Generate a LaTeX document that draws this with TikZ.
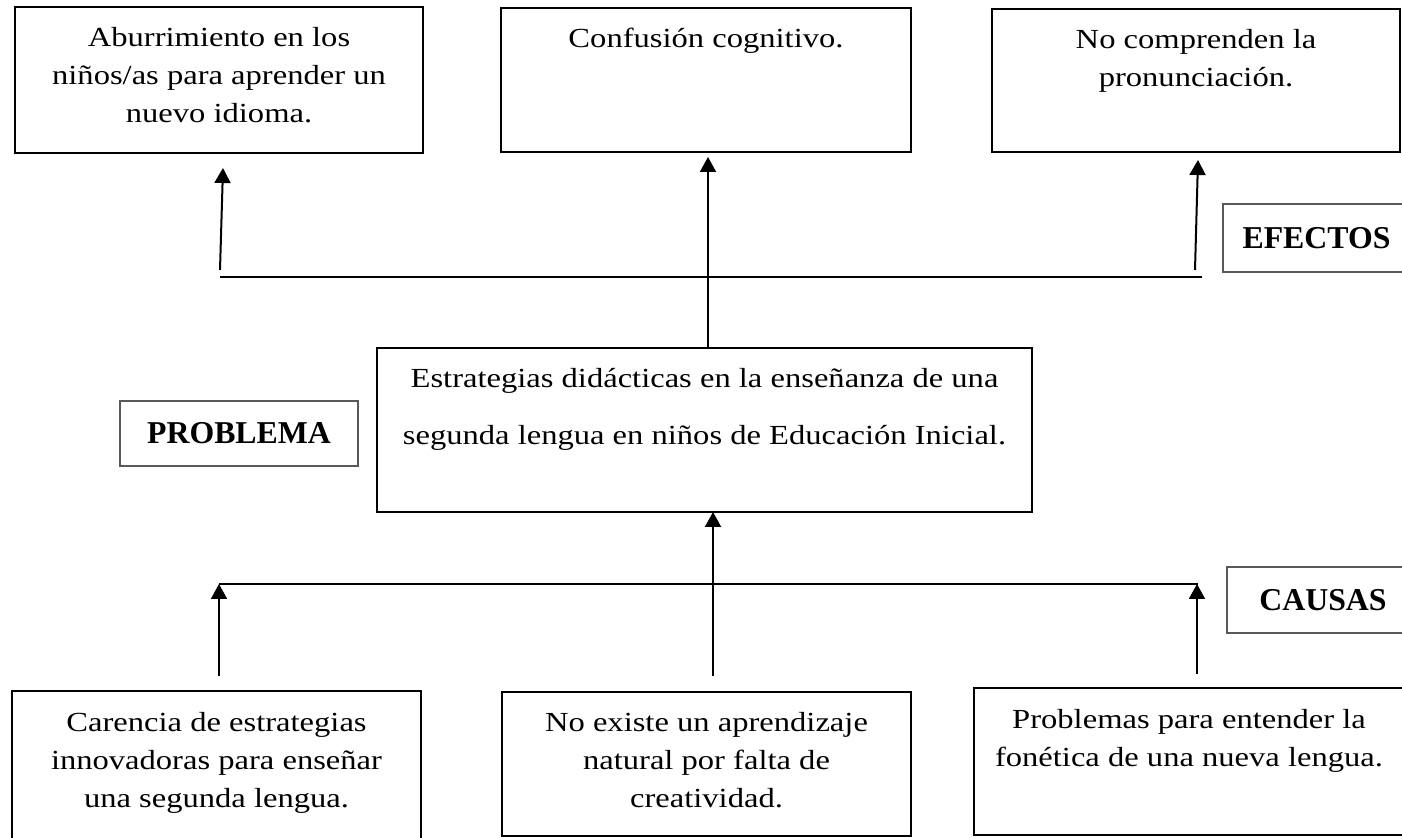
\documentclass[tikz,border=0pt]{standalone}
\usepackage{fontspec}
\setmainfont{Liberation Serif}
\newfontfamily\bodyfont{Liberation Serif}[FakeStretch=1.18]
\usetikzlibrary{arrows.meta}
\newcommand\mytxt[3]{\parbox[c][#2][t]{#1}{\centering\bodyfont\fontsize{13.8}{19}\selectfont\rule{0pt}{20pt}#3}}
\newcommand\mylbl[1]{\bfseries\fontsize{15.9}{19}\selectfont #1}
\tikzset{
  mainbox/.style={draw=black, line width=1.2pt, inner sep=0pt, outer sep=0pt, anchor=north west},
  lblbox/.style={draw=black!65, line width=0.7pt, inner sep=0pt, outer sep=0pt, anchor=north west, align=center},
  conn/.style={line width=1pt},
  arr/.style={line width=1pt, -{Triangle[length=7.5pt,width=8pt]}}
}
\begin{document}
\begin{tikzpicture}[x=0.5pt,y=-0.5pt]
\useasboundingbox (0,0) rectangle (1402,838);
\clip (0,0) rectangle (1402,838);
% effects
\node[mainbox] (e1) at (15,7) {\mytxt{204pt}{73pt}{Aburrimiento en los\\ niños/as para aprender un\\ nuevo idioma.}};
\node[mainbox] (e2) at (501,8) {\mytxt{205pt}{72pt}{Confusión cognitivo.}};
\node[mainbox] (e3) at (992,9) {\mytxt{204pt}{71.5pt}{No comprenden la\\ pronunciación.}};
\node[lblbox, minimum width=93.5pt, minimum height=34pt] (efx) at (1223,204) {\mylbl{EFECTOS}};
% problem
\node[lblbox, minimum width=119pt, minimum height=32.5pt] (prb) at (120,401) {\mylbl{PROBLEMA}};
\node[mainbox] (ctr) at (377,348) {\parbox[c][82pt][t]{327.5pt}{\centering\bodyfont\fontsize{13.8}{28.5}\selectfont\rule{0pt}{20pt}Estrategias didácticas en la enseñanza de una\\ segunda lengua en niños de Educación Inicial.}};
% causes
\node[lblbox, minimum width=96pt, minimum height=33pt] (cau) at (1227,567) {\mylbl{CAUSAS}};
\node[mainbox] (c1) at (12,691) {\mytxt{204.5pt}{79.5pt}{Carencia de estrategias\\ innovadoras para enseñar\\ una segunda lengua.}};
\node[mainbox] (c2) at (502,692) {\mytxt{204.5pt}{72pt}{No existe un aprendizaje\\ natural por falta de\\ creatividad.}};
\node[mainbox] (c3) at (974,688) {\mytxt{215pt}{73.5pt}{Problemas para entender la\\ fonética de una nueva lengua.}};
% connector coordinates
\coordinate (tl) at (220,277);
\coordinate (tr) at (1202,277);
\coordinate (a1s) at (220,270);
\coordinate (a1e) at (223,168);
\coordinate (a3s) at (1195,270);
\coordinate (a3e) at (1198,160);
\coordinate (a2s) at (708,348);
\coordinate (a2e) at (708,157);
\coordinate (bl) at (219,584);
\coordinate (br) at (1198,584);
\coordinate (b1s) at (219,676);
\coordinate (b2s) at (713,676);
\coordinate (b2e) at (713,512);
\coordinate (b3s) at (1197,674);
\coordinate (b3e) at (1197,584);
% effects connectors
\draw[conn] (tl) -- (tr);
\draw[arr] (a1s) -- (a1e);
\draw[arr] (a2s) -- (a2e);
\draw[arr] (a3s) -- (a3e);
% causes connectors
\draw[conn] (bl) -- (br);
\draw[arr] (b1s) -- (bl);
\draw[arr] (b2s) -- (b2e);
\draw[arr] (b3s) -- (b3e);
\end{tikzpicture}
\end{document}
